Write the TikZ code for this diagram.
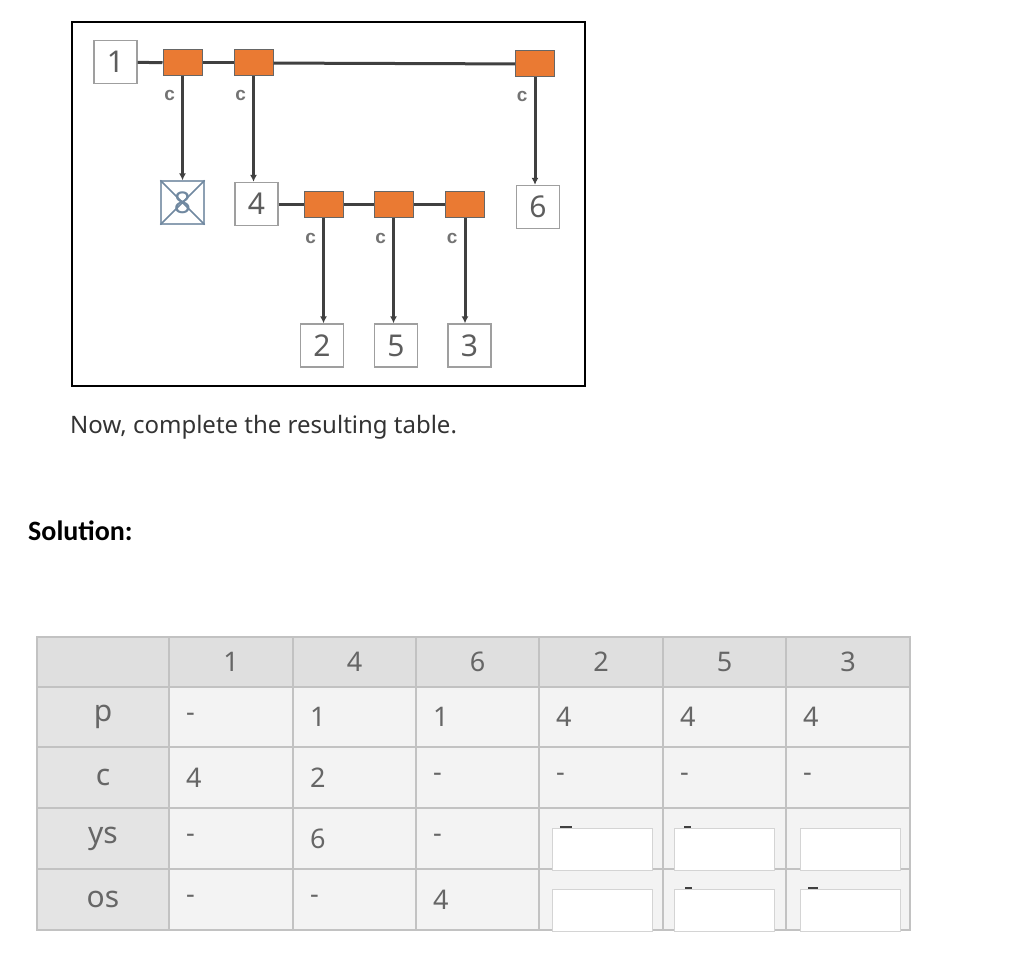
\documentclass[tikz,border=0pt]{standalone}
\usepackage{fontspec}
\setmainfont{Noto Sans}
\newfontfamily\solfont{Carlito}
\newfontfamily\labfont{Liberation Sans}
\usepackage{xcolor}
\usetikzlibrary{positioning,arrows.meta}
\definecolor{linkorange}{HTML}{EA7A33}
\definecolor{crossblue}{HTML}{7088A0}
\definecolor{tabhead}{HTML}{DFDFDF}
\definecolor{tabside}{HTML}{E4E4E4}
\definecolor{tabcell}{HTML}{F3F3F3}
\definecolor{tabline}{HTML}{C2C2C2}

\begin{document}
\begin{tikzpicture}[
    x=1pt, y=-1pt,
    num/.style={rectangle, draw=gray!75, line width=1.3pt, minimum size=43pt, inner sep=0pt, font=\fontsize{30}{30}\selectfont, text=darkgray!85},
    link/.style={rectangle, draw=darkgray!80, line width=1pt, fill=linkorange, minimum width=39pt, minimum height=26pt},
    conn/.style={line width=3pt, draw=darkgray},
    arrow/.style={conn, -{Latex[length=7pt,width=7pt]}},
    clab/.style={font=\labfont\bfseries\fontsize{19}{19}\selectfont, text=gray!90!black, left, inner sep=2pt, xshift=-4pt},
    head/.style={font=\fontsize{27}{27}\selectfont, text=darkgray!80},
    rowlab/.style={font=\fontsize{30}{30}\selectfont, text=darkgray!80},
    cell/.style={anchor=west, inner sep=0pt, font=\fontsize{27}{27}\selectfont, text=darkgray!80},
    answer/.style={rectangle, draw=tabline!70, line width=0.8pt, fill=white, minimum width=100pt, minimum height=42pt, inner sep=0pt},
    dashmark/.style={line width=2pt, draw=darkgray}
]
\useasboundingbox (0,0) rectangle (1024,952);

% Tree drawing
\draw[line width=2pt] (72,22) rectangle (585,386);

\node[num] (n1) at (115.5,62) {1};
\node[link] (o1) at (182.5,63) {};
\node[link] (o2) at (253.5,63) {};
\node[link] (o3) at (535,64) {};

\draw[conn] (n1) -- (o1);
\draw[conn] (o1) -- (o2);
\draw[conn] (o2) -- (o3);

\node[num, draw=crossblue!80, text=crossblue] (n8) at (182.5,202.5) {8};
\draw[crossblue, line width=1.5pt] (n8.north west) -- (n8.south east) (n8.north east) -- (n8.south west);
\node[num] (n4) at (256.5,204) {4};
\node[num] (n6) at (538,207) {6};

\draw[arrow] (o1) -- node[clab, pos=0.18] {c} (o1 |- n8.north);
\draw[arrow] (o2) -- node[clab, pos=0.18] {c} (o2 |- n4.north);
\draw[arrow] (o3) -- node[clab, pos=0.18] {c} (o3 |- n6.north);

% Second level
\node[link] (o4) at (323.5,204) {};
\node[link] (o5) at (393.5,204) {};
\node[link] (o6) at (465,204) {};

\draw[conn] (n4) -- (o4);
\draw[conn] (o4) -- (o5);
\draw[conn] (o5) -- (o6);

\node[num] (n2) at (322,345.5) {2};
\node[num] (n5) at (396,345.5) {5};
\node[num] (n3) at (469.5,345.5) {3};

\draw[arrow] (o4) -- node[clab, pos=0.2] {c} (o4 |- n2.north);
\draw[arrow] (o5) -- node[clab, pos=0.2] {c} (o5 |- n5.north);
\draw[arrow] (o6) -- node[clab, pos=0.2] {c} (o6 |- n3.north);

% Texts
\node[anchor=base west, inner sep=0pt, font=\fontsize{24}{24}\selectfont, text=black!80] (task) at (70,433) {Now, complete the resulting table.};
\node[anchor=base west, inner sep=0pt, font=\solfont\bfseries\fontsize{28}{28}\selectfont] (sol) at (28,540) {Solution:};

% Table
\fill[tabcell] (169,687) rectangle (910,930);
\fill[tabhead] (37,637) rectangle (910,687);
\fill[tabside] (37,687) rectangle (169,930);
\draw[tabline, line width=1.5pt] (37,637) rectangle (910,930)
    (37,687) -- (910,687) (37,747) -- (910,747)
    (37,808) -- (910,808) (37,869) -- (910,869)
    (169,637) -- (169,930) (293,637) -- (293,930)
    (416,637) -- (416,930) (539,637) -- (539,930)
    (663,637) -- (663,930) (786,637) -- (786,930);

\node[head] (h1) at (231,662) {1};
\node[head] (h4) at (354.5,662) {4};
\node[head] (h6) at (477.5,662) {6};
\node[head] (h2) at (601,662) {2};
\node[head] (h5) at (724.5,662) {5};
\node[head] (h3) at (848,662) {3};

\node[rowlab] (rp) at (103,717) {p};
\node[rowlab] (rc) at (103,777.5) {c};
\node[rowlab] (rys) at (103,838.5) {ys};
\node[rowlab] (ros) at (103,899.5) {os};

% row p
\node[cell] (p1) at (186,717) {-};
\node[cell] (p4) at (310,717) {1};
\node[cell] (p6) at (433,717) {1};
\node[cell] (p2) at (556,717) {4};
\node[cell] (p5) at (680,717) {4};
\node[cell] (p3) at (803,717) {4};
% row c
\node[cell] (c1) at (186,777.5) {4};
\node[cell] (c4) at (310,777.5) {2};
\node[cell] (c6) at (433,777.5) {-};
\node[cell] (c2) at (556,777.5) {-};
\node[cell] (c5) at (680,777.5) {-};
\node[cell] (c3) at (803,777.5) {-};
% row ys
\node[cell] (ys1) at (186,838.5) {-};
\node[cell] (ys4) at (310,838.5) {6};
\node[cell] (ys6) at (433,838.5) {-};
% row os
\node[cell] (os1) at (186,899.5) {-};
\node[cell] (os4) at (310,899.5) {-};
\node[cell] (os6) at (433,899.5) {4};

% answer boxes
\draw[dashmark] (560,827) -- (572,827);
\draw[dashmark] (684,827) -- (691,827);
\draw[dashmark] (685,888) -- (692,888);
\draw[dashmark] (808,888) -- (818,888);
\node[answer] (ys2) at (602,849) {};
\node[answer] (ys5) at (724.5,849) {};
\node[answer] (ys3) at (850.5,849) {};
\node[answer] (os2) at (602,910) {};
\node[answer] (os5) at (724.5,910) {};
\node[answer] (os3) at (850.5,910) {};

\end{tikzpicture}
\end{document}
